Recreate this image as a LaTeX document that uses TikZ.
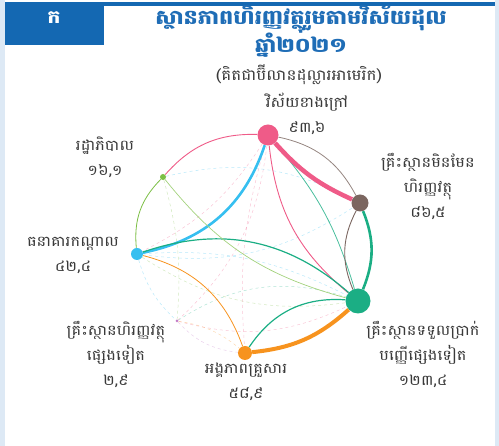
\documentclass[tikz,border=0pt]{standalone}
\usepackage{fontspec}
\newfontfamily\kh[Script=Khmer,FakeStretch=1.12]{Battambang}
\usetikzlibrary{positioning}

\definecolor{stripblue}{HTML}{DDE9F5}
\definecolor{tabblue}{HTML}{1468B2}
\definecolor{titleblue}{HTML}{1F6DB6}
\definecolor{txtgray}{HTML}{3A3A3A}
\definecolor{extpink}{HTML}{EF5B88}
\definecolor{nfbrown}{HTML}{7B6660}
\definecolor{odcgreen}{HTML}{1BAE84}
\definecolor{hhorange}{HTML}{F7931E}
\definecolor{cbcyan}{HTML}{36BFF0}
\definecolor{govgreen}{HTML}{7CBF45}
\definecolor{ofipurple}{HTML}{C27BC8}

\begin{document}
\begin{tikzpicture}[x=1pt,y=-1pt]
    \tikzstyle{dot}=[circle,inner sep=0pt]
    \tikzstyle{lbl}=[align=center,text=txtgray,font=\kh\fontsize{14.5}{25}\selectfont]
    \tikzstyle{faint}=[dashed,line width=0.5pt,opacity=0.35]

    \useasboundingbox (0,0) rectangle (499,446);
    % frame and heading
    \fill[stripblue] (0,0) rectangle (5,446);
    \fill[stripblue] (495,0) rectangle (499,446);
    \fill[tabblue] (5,2) rectangle (495,6);
    \fill[tabblue] (5,2) rectangle (104,45);
    \node[text=white,font=\kh\bfseries\fontsize{18}{20}\selectfont] (tab) at (54,18) {ក};
    \node[text=titleblue,font=\kh\bfseries\fontsize{20}{22}\selectfont] (title) at (301,19) {ស្ថានភាពហិរញ្ញវត្ថុរួមតាមវិស័យដុល};
    \node[text=titleblue,font=\kh\bfseries\fontsize{20}{22}\selectfont] (year) at (301,45) {ឆ្នាំ២០២១};
    \node[text=txtgray,font=\kh\fontsize{15}{17}\selectfont] (unit) at (299,75) {(គិតជាប៊ីលានដុល្លារអាមេរិក)};

    % Draw the sectors
    \node[dot,fill=extpink,minimum size=21pt] (ext) at (268,135) {};
    \node[dot,fill=nfbrown,minimum size=17pt] (nf) at (360,203) {};
    \node[dot,fill=odcgreen,minimum size=25pt] (odc) at (358,301) {};
    \node[dot,fill=hhorange,minimum size=14pt] (hh) at (245,353) {};
    \node[dot,fill=ofipurple,minimum size=3pt] (ofi) at (177,321) {};
    \node[dot,fill=cbcyan,minimum size=12pt] (cb) at (137,254) {};
    \node[dot,fill=govgreen,minimum size=6pt] (gov) at (163,177) {};

    % faint links
    \draw[faint,extpink] (ext) to[bend left=20] (ofi);
    \draw[faint,extpink] (ext) to[bend right=10] (hh);
    \draw[faint,extpink] (ext) to[bend left=15] (cb);
    \draw[faint,cbcyan] (gov) to[bend left=20] (nf);
    \draw[faint,cbcyan] (cb) to[bend left=15] (odc);
    \draw[faint,cbcyan] (cb) to[bend right=20] (nf);
    \draw[faint,cbcyan] (cb) to[bend right=15] (ofi);
    \draw[faint,odcgreen] (ofi) to[bend left=25] (odc);
    \draw[faint,govgreen] (gov) to[bend left=10] (ofi);
    \draw[faint,govgreen] (cb) to[bend right=20] (odc);
    \draw[faint,extpink] (ofi) to[bend right=20] (odc);
    \draw[faint,ofipurple] (ofi) to[bend right=20] (hh);
    \draw[faint,hhorange] (ofi) to[bend left=15] (hh);

    % Connect the sectors
    \draw[line width=0.8pt,nfbrown!80] (ext) to[bend left=25] (nf);
    \draw[line width=0.8pt,odcgreen!80] (ext) to[bend left=12] (odc);
    \draw[line width=0.9pt,extpink] (ext) to[bend right=22] (odc);
    \draw[line width=0.9pt,extpink] (gov) to[bend left=25] (ext);
    \draw[line width=2.6pt,cbcyan] (cb) to[bend right=30] (ext);
    \draw[line width=1.2pt,odcgreen] (odc) to[bend right=30] (cb);
    \draw[line width=0.8pt,govgreen] (cb) to[bend left=25] (gov);
    \draw[line width=0.7pt,govgreen!70] (gov) to[bend right=18] (odc);
    \draw[line width=0.8pt,hhorange] (hh) to[bend right=28] (cb);
    \draw[line width=0.9pt,nfbrown] (nf) to[bend right=25] (odc);
    \draw[line width=2.6pt,odcgreen] (nf) to[bend left=22] (odc);
    \draw[line width=1.2pt,odcgreen] (odc) to[bend right=30] (hh);
    \draw[line width=4pt,hhorange] (odc) to[bend left=18] (hh);
    \draw[line width=4.5pt,extpink] (ext) to[bend right=12] (nf);

    % Annotate the sectors
    \node[lbl] (ext-lbl) at (307,114) {វិស័យខាងក្រៅ\\៩៣,៦};
    \node[lbl] (nf-lbl) at (428,187) {គ្រឹះស្ថានមិនមែន\\ហិរញ្ញវត្ថុ\\៨៦,៥};
    \node[lbl] (odc-lbl) at (423,355) {គ្រឹះស្ថានទទួលប្រាក់\\បញ្ញើផ្សេងទៀត\\១២៣,៤};
    \node[lbl] (hh-lbl) at (246,382) {អង្គភាពគ្រួសារ\\៥៨,៩};
    \node[lbl] (ofi-lbl) at (116,355) {គ្រឹះស្ថានហិរញ្ញវត្ថុ\\ផ្សេងទៀត\\២,៩};
    \node[lbl] (cb-lbl) at (73,255) {ធនាគារកណ្តាល\\៤២,៤};
    \node[lbl] (gov-lbl) at (105,157) {រដ្ឋាភិបាល\\១៦,១};
\end{tikzpicture}
\end{document}
